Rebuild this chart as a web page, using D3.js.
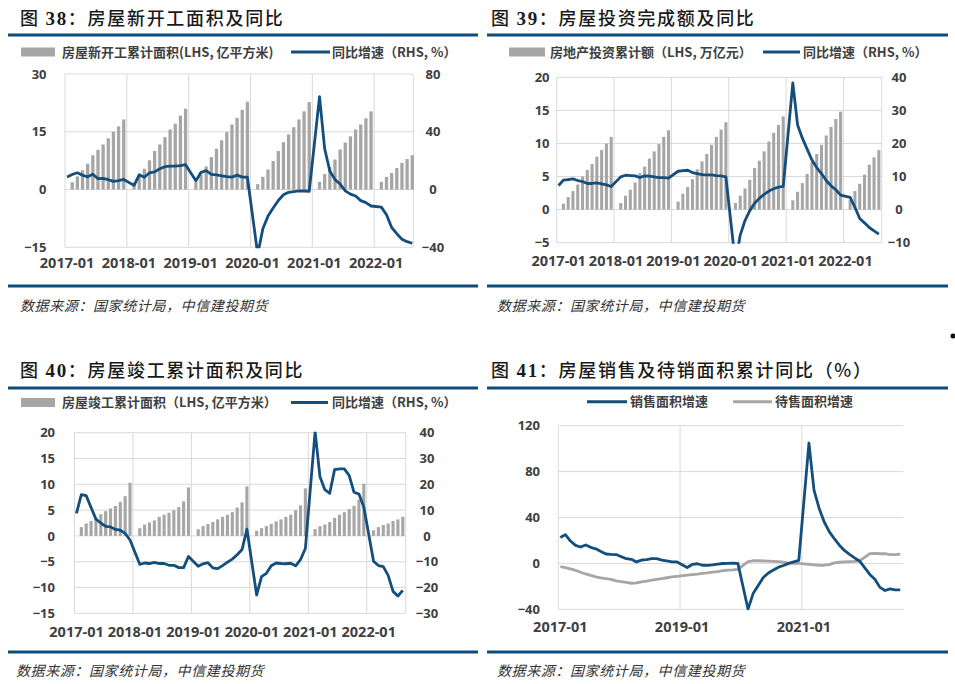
<!DOCTYPE html>
<html><head><meta charset="utf-8">
<script src="https://cdn.jsdelivr.net/npm/d3@7"></script>
<style>body{margin:0;background:#fff;}svg{display:block;}</style>
</head><body>
<svg id="c" width="955" height="684"></svg>
<script>
// ---------------- DATA (monthly, 2017-01 .. 2022-08; null = no January figure) -------------
const yearTicks = ["2017-01","2018-01","2019-01","2020-01","2021-01","2022-01"];
const yearTicks2 = ["2017-01","2019-01","2021-01"];

// 图38 新开工
const startsArea = [
 null,1.9,3.4,5.0,6.7,8.9,10.3,11.7,13.3,15.0,16.4,18.2,
 null,1.8,3.7,5.4,7.6,10.0,11.7,13.6,15.6,17.1,19.2,21.0,
 null,1.9,3.9,6.0,8.4,10.6,12.8,14.9,16.9,18.6,20.7,22.8,
 null,1.4,3.3,5.2,7.4,10.0,12.3,14.3,16.2,18.2,20.3,22.7,
 null,2.0,4.0,5.8,7.8,10.4,12.2,13.8,15.6,16.9,18.5,20.3,
 null,2.0,3.3,4.3,5.6,6.9,7.9,8.9];
const startsYoY = [
 8.7,10.4,11.6,9.9,8.8,10.6,7.6,7.7,6.8,5.6,6.1,7.0,
 null,2.9,10.2,8.5,11.6,12.2,14.4,15.8,16.2,16.3,16.6,17.2,
 null,6.0,11.9,13.1,10.5,10.1,9.5,8.9,8.6,10.0,8.6,8.5,
 null,-44.9,-27.2,-18.4,-12.8,-7.6,-3.6,-1.9,-1.4,-1.0,-1.0,-1.2,
 null,64.3,28.2,12.8,6.9,3.8,-0.9,-3.2,-4.5,-7.7,-9.1,-11.4,
 null,-12.2,-17.5,-26.3,-30.6,-34.4,-36.1,-37.2];

// 图39 投资
const investAmt = [
 null,0.9,1.9,2.8,3.8,5.0,6.0,6.9,8.0,9.0,10.0,11.0,
 null,1.0,2.1,3.0,4.1,5.5,6.5,7.7,8.8,9.9,11.0,12.0,
 null,1.2,2.4,3.4,4.6,6.1,7.3,8.4,9.8,11.0,12.1,13.2,
 null,1.0,2.1,3.2,4.5,6.3,7.4,8.8,10.3,11.6,12.8,14.1,
 null,1.4,2.7,4.0,5.4,7.2,8.4,9.8,11.2,12.5,13.7,14.8,
 null,1.5,2.8,3.9,5.3,6.8,7.9,9.0];
const investYoY = [
 7.3,8.9,9.1,9.3,8.8,8.5,7.9,7.9,8.1,7.8,7.5,7.0,
 null,9.9,10.4,10.3,10.2,9.7,10.2,10.1,9.9,9.7,9.7,9.5,
 null,11.6,11.8,11.9,11.2,10.9,10.6,10.5,10.5,10.3,10.2,9.9,
 null,-16.3,-7.7,-3.3,-0.3,1.9,3.4,4.6,5.6,6.3,6.8,7.0,
 null,38.3,25.6,21.6,18.3,15.0,12.7,10.9,8.8,7.2,6.0,4.4,
 null,3.7,0.7,-2.7,-4.0,-5.4,-6.4,-7.4];

// 图40 竣工
const completedArea = [
 null,1.7,2.4,2.9,3.5,4.2,4.8,5.3,5.8,6.6,7.7,10.3,
 null,1.5,2.2,2.6,3.0,3.7,4.1,4.5,5.0,5.6,6.7,9.4,
 null,1.3,1.9,2.3,2.7,3.2,3.7,4.1,4.6,5.5,6.5,9.6,
 null,1.0,1.5,1.9,2.3,2.8,3.2,3.7,4.1,5.0,5.9,9.2,
 null,1.3,1.9,2.2,2.7,3.5,4.1,4.6,5.2,5.8,7.0,10.1,
 null,1.1,1.7,2.1,2.4,2.9,3.2,3.7];
const completedYoY = [
 8.7,16.0,15.6,11.0,6.5,5.0,3.7,3.5,2.5,2.2,1.0,-1.6,
 null,-11.0,-10.5,-10.7,-10.3,-10.7,-10.7,-11.4,-11.4,-12.3,-12.3,-8.0,
 null,-11.8,-10.8,-10.4,-12.4,-12.7,-11.5,-10.2,-9.0,-7.3,-5.3,2.6,
 null,-22.9,-15.8,-14.5,-11.6,-10.5,-10.7,-10.8,-10.6,-11.6,-9.2,-4.9,
 null,40.4,22.9,17.9,16.5,25.7,26.0,26.0,23.4,16.9,16.2,11.2,
 null,-9.8,-11.5,-11.9,-15.3,-21.5,-23.3,-21.1];

// 图41 销售 / 待售
const salesYoY = [
 22.5,25.1,19.5,15.7,14.3,16.1,14.0,12.7,10.3,8.2,7.9,7.7,
 null,4.1,3.6,1.3,2.9,3.3,4.2,4.1,2.9,2.2,1.4,1.3,
 null,-3.6,-0.9,-0.3,-1.6,-1.8,-1.3,-0.6,-0.1,0.1,0.2,-0.1,
 null,-39.9,-26.3,-19.3,-12.3,-8.4,-5.8,-3.3,-1.8,0.0,1.3,2.6,
 null,104.9,63.8,48.1,36.3,27.7,21.5,15.9,11.3,7.8,4.8,1.9,
 null,-9.6,-13.8,-20.9,-23.6,-22.2,-23.1,-23.0];
const inventoryYoY = [
 -2.9,-3.6,-4.8,-6.0,-7.7,-9.2,-10.5,-11.8,-12.7,-13.3,-14.0,-15.3,
 null,-16.5,-17.3,-17.0,-16.2,-15.4,-14.6,-13.9,-13.2,-12.5,-11.8,-11.3,
 null,-10.3,-9.8,-9.3,-8.7,-8.2,-7.6,-7.2,-6.4,-5.9,-5.6,-5.2,
 null,1.5,2.3,2.3,2.1,1.9,1.7,1.5,1.0,0.3,0.1,0.0,
 null,-0.8,-1.2,-1.7,-1.6,-1.0,0.4,1.0,1.4,1.6,1.8,2.2,
 null,8.6,8.7,8.4,8.6,7.7,7.6,8.1];

// ---------------- STYLE -------------
const BLUE = "#134e7c", BAR = "#a6a6a6", GRAYLINE = "#a6a6a6", GRID = "#d9d9d9",
      TXT = "#404040", RULE = "#0e4c7b";
const CJK = "'Noto Sans CJK SC','Noto Sans',sans-serif";
const NUM = "'Open Sans','Noto Sans',sans-serif";
const svg = d3.select("#c");
const OFF = 0.4;   // monthly points sit slightly inside the month slot

// page furniture: titles, rules, sources
const titles = [
  {x:20, y:25, n:"38", t:"房屋新开工面积及同比"},
  {x:491, y:25, n:"39", t:"房屋投资完成额及同比"},
  {x:20, y:377, n:"40", t:"房屋竣工累计面积及同比"},
  {x:491, y:377, n:"41", t:"房屋销售及待销面积累计同比（%）"}
];
titles.forEach(d => {
  const t = svg.append("text").attr("x", d.x).attr("y", d.y)
    .attr("font-size", 18).attr("font-weight", 500).attr("fill", "#1a1a1a").attr("font-family", CJK)
    .style("letter-spacing", "1.7px");
  t.append("tspan").text("图 ");
  t.append("tspan").attr("font-family", "'Liberation Serif',serif").attr("font-weight", "bold").attr("font-size", 19).text(d.n);
  t.append("tspan").text("：" + d.t);
});
const rules = [
  {x1:8, x2:478, y:35}, {x1:487, x2:948, y:35},
  {x1:8, x2:478, y:286}, {x1:487, x2:948, y:286},
  {x1:8, x2:478, y:388}, {x1:487, x2:948, y:388},
  {x1:8, x2:478, y:652}, {x1:487, x2:948, y:652}
];
svg.selectAll("line.rule").data(rules).join("line").attr("class","rule")
  .attr("x1", d=>d.x1).attr("x2", d=>d.x2).attr("y1", d=>d.y).attr("y2", d=>d.y)
  .attr("stroke", RULE).attr("stroke-width", 3);
const sources = [{x:20,y:311},{x:497,y:311},{x:16,y:676},{x:497,y:676}];
svg.selectAll("text.src").data(sources).join("text").attr("class","src")
  .attr("x", d=>d.x).attr("y", d=>d.y).attr("font-family", CJK).attr("font-size", 14)
  .attr("font-style", "italic").attr("fill", "#333").style("letter-spacing","0.6px")
  .text("数据来源：国家统计局，中信建投期货");
svg.append("circle").attr("cx", 953).attr("cy", 336).attr("r", 2.5).attr("fill", "#111");

// ---------------- PANELS -------------
function drawPanel(c, id) {
  const g = svg.append("g");
  const x = d3.scaleLinear().domain([0, c.nMax]).range([c.x0, c.x1]);
  const yL = d3.scaleLinear().domain(c.yL).range([c.yBot, c.yTop]);
  const yR = c.yR ? d3.scaleLinear().domain(c.yR).range([c.yBot, c.yTop]) : yL;
  const ticksL = d3.range(c.yL[0], c.yL[1] + 1e-6, c.stepL);

  // horizontal grid
  g.selectAll("line.hg").data(ticksL).join("line").attr("class","hg")
    .attr("x1", c.x0).attr("x2", c.x1).attr("y1", d=>yL(d)).attr("y2", d=>yL(d))
    .attr("stroke", GRID).attr("stroke-width", 1);
  // vertical grid at year boundaries (+ right edge)
  const vg = c.tickIdx.map(i => x(i));
  if (c.edge) vg.push(c.x1);
  g.selectAll("line.vg").data(vg).join("line").attr("class","vg")
    .attr("x1", d=>d).attr("x2", d=>d).attr("y1", c.yTop).attr("y2", c.yBot)
    .attr("stroke", GRID).attr("stroke-width", 1);

  // clip
  svg.append("clipPath").attr("id", "clip"+id).append("rect")
    .attr("x", c.x0).attr("y", c.yTop - 1).attr("width", c.x1 - c.x0 + 2).attr("height", c.yBot - c.yTop + 2);
  const plot = g.append("g").attr("clip-path", `url(#clip${id})`);

  // bars
  if (c.bars) {
    const step = x(1) - x(0);
    const bw = step * 0.64;
    const bd = c.bars.map((v,i)=>({i,v})).filter(d=>d.v!=null);
    plot.selectAll("rect.bar").data(bd).join("rect").attr("class","bar")
      .attr("x", d=>x(d.i+OFF) - bw/2).attr("width", bw)
      .attr("y", d=>yL(d.v)).attr("height", d=>yL(0) - yL(d.v))
      .attr("fill", BAR);
  }
  // lines
  c.lines.forEach(L => {
    const ld = L.data.map((v,i)=>({i,v})).filter(d=>d.v!=null);
    plot.append("path").datum(ld)
      .attr("d", d3.line().x(d=>x(d.i+OFF)).y(d=>yR(d.v)))
      .attr("fill","none").attr("stroke", L.color).attr("stroke-width", 2.8)
      .attr("stroke-linejoin","round").attr("stroke-linecap","butt");
  });

  // left axis labels
  const ax = g.append("g").attr("transform", `translate(${c.x0},0)`)
    .call(d3.axisLeft(yL).tickValues(ticksL).tickSize(0).tickPadding(c.x0 - c.leftLabelX).tickFormat(d3.format("d")));
  ax.select(".domain").remove();
  ax.selectAll("text").attr("font-family", NUM).attr("font-size", 13).attr("font-weight","bold").attr("fill", TXT);

  if (c.yR) {
    const ticksR = d3.range(c.yR[0], c.yR[1] + 1e-6, c.stepR);
    const ar = g.append("g").attr("transform", `translate(${c.x1},0)`)
      .call(d3.axisRight(yR).tickValues(ticksR).tickSize(0).tickFormat(d3.format("d")));
    ar.select(".domain").remove();
    ar.selectAll("text").attr("x", c.rightLabelX - c.x1).attr("text-anchor","middle")
      .attr("font-family", NUM).attr("font-size", 13).attr("font-weight","bold").attr("fill", TXT);
  }
  // x axis labels
  const axb = g.append("g").attr("transform", `translate(0,${c.yBot})`)
    .call(d3.axisBottom(x).tickValues(c.tickIdx).tickSize(0).tickFormat((d,k)=>c.tickLabels[k]));
  axb.select(".domain").remove();
  axb.selectAll("text").attr("y", c.xLabelY - c.yBot).attr("dy", null).attr("dx", 1.5)
    .attr("font-family", NUM).attr("font-size", 14.5).attr("font-weight","bold").attr("fill", TXT);

  // legend
  const lg = svg.append("g").attr("font-family", CJK).attr("font-size", 13).attr("font-weight","bold").attr("fill", TXT);
  c.legend.forEach(e => {
    if (e.type === "rect") {
      lg.append("rect").attr("x", e.x).attr("y", e.y - 4.5).attr("width", e.w).attr("height", 9).attr("fill", e.color);
    } else {
      lg.append("line").attr("x1", e.x).attr("x2", e.x + e.w).attr("y1", e.y).attr("y2", e.y)
        .attr("stroke", e.color).attr("stroke-width", 3);
    }
    lg.append("text").attr("x", e.tx).attr("y", e.y).attr("dy", "0.36em").text(e.label);
  });
}

drawPanel({
  x0:65, x1:413.3, nMax:67.6, yTop:74, yBot:247.3,
  yL:[-15,30], stepL:15, yR:[-40,80], stepR:40,
  leftLabelX:46.5, rightLabelX:433, xLabelY:268, edge:true,
  tickIdx:[0,12,24,36,48,60], tickLabels:yearTicks,
  bars:startsArea, lines:[{data:startsYoY, color:BLUE}],
  legend:[
    {type:"rect", x:21, y:52, w:34, color:BAR, tx:62, label:"房屋新开工累计面积(LHS, 亿平方米)"},
    {type:"line", x:291, y:52, w:39, color:BLUE, tx:332, label:"同比增速（RHS, %）"}
  ]
}, 1);

drawPanel({
  x0:556.7, x1:881.7, nMax:68, yTop:77.3, yBot:242.7,
  yL:[-5,20], stepL:5, yR:[-10,40], stepR:10,
  leftLabelX:549.5, rightLabelX:899, xLabelY:266, edge:true,
  tickIdx:[0,12,24,36,48,60], tickLabels:yearTicks,
  bars:investAmt, lines:[{data:investYoY, color:BLUE}],
  legend:[
    {type:"rect", x:509, y:52, w:36, color:BAR, tx:550, label:"房地产投资累计额（LHS, 万亿元）"},
    {type:"line", x:763, y:52, w:37, color:BLUE, tx:803, label:"同比增速（RHS, %）"}
  ]
}, 2);

drawPanel({
  x0:74.5, x1:405.7, nMax:68, yTop:432.7, yBot:613.3,
  yL:[-15,20], stepL:5, yR:[-30,40], stepR:10,
  leftLabelX:55, rightLabelX:427, xLabelY:637, edge:true,
  tickIdx:[0,12,24,36,48,60], tickLabels:yearTicks,
  bars:completedArea, lines:[{data:completedYoY, color:BLUE}],
  legend:[
    {type:"rect", x:21, y:402.5, w:34, color:BAR, tx:62, label:"房屋竣工累计面积（LHS, 亿平方米）"},
    {type:"line", x:291, y:402.5, w:37, color:BLUE, tx:332, label:"同比增速（RHS, %）"}
  ]
}, 3);

drawPanel({
  x0:558.3, x1:903.3, nMax:68, yTop:425.7, yBot:609.3,
  yL:[-40,120], stepL:40, yR:null,
  leftLabelX:540, xLabelY:632, edge:false,
  tickIdx:[0,24,48], tickLabels:yearTicks2,
  bars:null, lines:[{data:inventoryYoY, color:GRAYLINE},{data:salesYoY, color:BLUE}],
  legend:[
    {type:"line", x:587, y:401.7, w:40, color:BLUE, tx:630, label:"销售面积增速"},
    {type:"line", x:733, y:401.7, w:39, color:GRAYLINE, tx:775, label:"待售面积增速"}
  ]
}, 4);
</script>
</body></html>
